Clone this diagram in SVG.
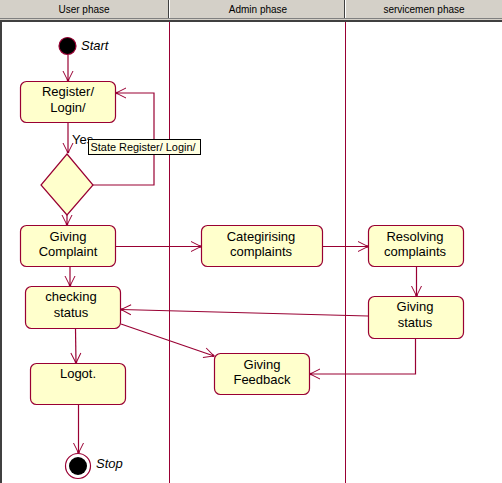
<svg xmlns="http://www.w3.org/2000/svg" width="502" height="483" viewBox="0 0 502 483">
<style>
.hdr{fill:#D4D0C8}
.htxt{font-family:"Liberation Sans",Arial,sans-serif;font-size:10px;fill:#000;text-anchor:middle}
.lane{stroke:#990033;stroke-width:1;fill:none}
.box{fill:#FFFFCC;stroke:#990033;stroke-width:1.2}
.t{font-family:"Liberation Sans",Arial,sans-serif;font-size:13px;fill:#000;text-anchor:middle}
.lbl{font-family:"Liberation Sans",Arial,sans-serif;font-size:13px;font-style:italic;fill:#000}
.edge{stroke:#990033;stroke-width:1.2;fill:none;marker-end:url(#arr)}
</style>
<defs>
<marker id="arr" viewBox="-11 -6 12 12" refX="0" refY="0" markerWidth="12" markerHeight="12" markerUnits="userSpaceOnUse" orient="auto">
<path d="M-10,-5 L0,0 L-10,5" fill="none" stroke="#990033" stroke-width="1"/>
<circle cx="-1" cy="0" r="1.3" fill="#990033"/>
</marker>
</defs>
<rect x="0" y="0" width="502" height="483" fill="#fff"/>
<g id="header">
<rect class="hdr" x="0" y="0" width="502" height="18"/>
<rect x="0" y="18" width="502" height="1" fill="#808080"/>
<rect x="0" y="19" width="502" height="1" fill="#D4D0C8"/>
<rect x="0" y="20" width="502" height="2" fill="#404040"/>
<rect x="168" y="0" width="1" height="18" fill="#404040"/>
<rect x="169" y="0" width="1" height="18" fill="#fff"/>
<rect x="344" y="0" width="1" height="18" fill="#404040"/>
<rect x="345" y="0" width="1" height="18" fill="#fff"/>
<text class="htxt" x="84" y="13">User phase</text>
<text class="htxt" x="258" y="13">Admin phase</text>
<text class="htxt" x="424" y="13">servicemen phase</text>
<rect x="0" y="22" width="2" height="461" fill="#404040"/>
</g>
<g id="lanes">
<line class="lane" x1="169.5" y1="22" x2="169.5" y2="483"/>
<line class="lane" x1="345.5" y1="22" x2="345.5" y2="483"/>
</g>
<g id="connectors">
<line class="edge" x1="68" y1="55" x2="68" y2="81"/>
<line class="edge" x1="68" y1="123" x2="68" y2="153"/>
<polyline class="edge" points="93,185 154,185 154,93 116,93"/>
<line class="edge" x1="67" y1="215" x2="67" y2="225"/>
<line class="edge" x1="115" y1="246.5" x2="201" y2="246.5"/>
<line class="edge" x1="322" y1="246.5" x2="368" y2="246.5"/>
<line class="edge" x1="70" y1="267" x2="70" y2="286"/>
<line class="edge" x1="416.5" y1="267" x2="416.5" y2="296"/>
<line class="edge" x1="368" y1="316" x2="121" y2="309.5"/>
<line class="edge" x1="121" y1="324" x2="214" y2="356"/>
<polyline class="edge" points="415.5,338 415.5,374 310,374"/>
<line class="edge" x1="75.5" y1="329" x2="76" y2="363"/>
<line class="edge" x1="78.5" y1="405" x2="78.5" y2="453"/>
</g>
<g id="start">
<circle cx="67.5" cy="46" r="8.5" fill="#000" stroke="#990033" stroke-width="1.2"/>
<text class="lbl" x="81" y="50">Start</text>
</g>
<g id="register">
<rect class="box" x="20.5" y="81.5" width="95" height="41" rx="6"/>
<text class="t" x="68" y="96">Register/</text>
<text class="t" x="68" y="111.5">Login/</text>
</g>
<g id="decision">
<polygon class="box" points="67,154 93,185 67,215 41,185"/>
<text x="72" y="144" font-family="Liberation Sans,Arial,sans-serif" font-size="13">Yes</text>
</g>
<g id="tooltip">
<rect x="88.5" y="139.5" width="112" height="15" fill="#FFFFE1" stroke="#000" stroke-width="1"/>
<text x="90.5" y="151" font-family="Liberation Sans,Arial,sans-serif" font-size="11" textLength="105" lengthAdjust="spacingAndGlyphs">State Register/ Login/</text>
</g>
<g id="giving-complaint">
<rect class="box" x="20.5" y="225.5" width="95" height="41" rx="6"/>
<text class="t" x="68" y="240.5">Giving</text>
<text class="t" x="68" y="256">Complaint</text>
</g>
<g id="categorising">
<rect class="box" x="201.5" y="225.5" width="121" height="41" rx="6"/>
<text class="t" x="261" y="240.5">Categirising</text>
<text class="t" x="261" y="256">complaints</text>
</g>
<g id="resolving">
<rect class="box" x="368.5" y="225.5" width="95" height="41" rx="6"/>
<text class="t" x="415" y="240.5">Resolving</text>
<text class="t" x="415" y="256">complaints</text>
</g>
<g id="checking-status">
<rect class="box" x="25.5" y="286.5" width="95" height="42" rx="6"/>
<text class="t" x="71" y="301">checking</text>
<text class="t" x="71" y="317">status</text>
</g>
<g id="giving-status">
<rect class="box" x="368.5" y="296.5" width="95" height="42" rx="6"/>
<text class="t" x="415" y="310.5">Giving</text>
<text class="t" x="415" y="326.5">status</text>
</g>
<g id="giving-feedback">
<rect class="box" x="214.5" y="353.5" width="95" height="41" rx="6"/>
<text class="t" x="262" y="368.5">Giving</text>
<text class="t" x="262" y="384">Feedback</text>
</g>
<g id="logout">
<rect class="box" x="30.5" y="363.5" width="95" height="41" rx="6"/>
<text class="t" x="78" y="378">Logot.</text>
</g>
<g id="stop">
<circle cx="78" cy="466" r="12.5" fill="#fff" stroke="#990033" stroke-width="1.2"/>
<circle cx="78" cy="466" r="9" fill="#000"/>
<text class="lbl" x="96" y="468">Stop</text>
</g>
</svg>
